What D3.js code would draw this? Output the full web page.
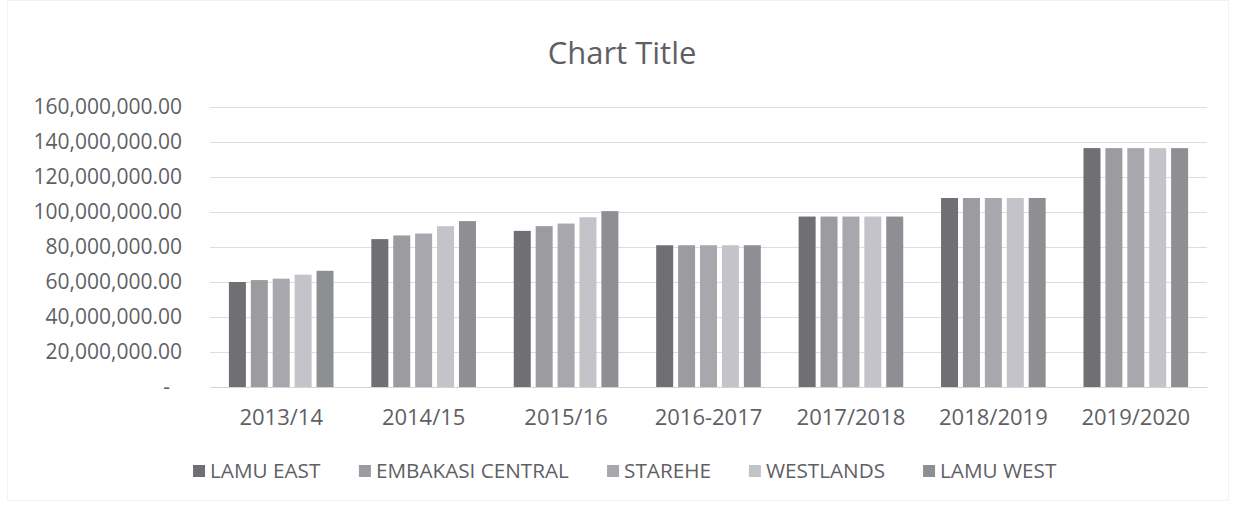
<!DOCTYPE html>
<html>
<head>
<meta charset="utf-8">
<script src="https://cdn.jsdelivr.net/npm/d3@7"></script>
<style>
  body { margin: 0; background: #fff; }
  text { font-family: "Open Sans", sans-serif; fill: #5f5f66; }
</style>
</head>
<body>
<div id="chart"></div>
<script>
const years = ["2013/14", "2014/15", "2015/16", "2016-2017", "2017/2018", "2018/2019", "2019/2020"];
const series = ["LAMU EAST", "EMBAKASI CENTRAL", "STAREHE", "WESTLANDS", "LAMU WEST"];
const colors = ["#6f6f74", "#9b9ba0", "#a7a7ad", "#c3c3c9", "#8e8f93"];

const lamuEast        = [60000000, 84500000, 89200000, 81000000, 97400000, 108000000, 136500000];
const embakasiCentral = [61100000, 86600000, 91900000, 81000000, 97400000, 108000000, 136500000];
const starehe         = [61900000, 87700000, 93400000, 81000000, 97400000, 108000000, 136500000];
const westlands       = [64200000, 91900000, 97000000, 81000000, 97400000, 108000000, 136500000];
const lamuWest        = [66400000, 94800000, 100500000, 81000000, 97400000, 108000000, 136500000];

const yTicks = [0, 20000000, 40000000, 60000000, 80000000, 100000000, 120000000, 140000000, 160000000];

const values = [lamuEast, embakasiCentral, starehe, westlands, lamuWest];
const rows = years.map((y, i) => {
  const r = { year: y };
  series.forEach((s, j) => (r[s] = values[j][i]));
  return r;
});

const W = 1236, H = 508;
const margin = { top: 107, right: 29, bottom: 121, left: 210 };
const width = W - margin.left - margin.right,
  height = H - margin.top - margin.bottom;

const svg = d3.select("#chart").append("svg").attr("width", W).attr("height", H);

// faint outer frame of the chart area
svg.append("rect").attr("x", 7.5).attr("y", 0.5).attr("width", W - 15).attr("height", H - 8)
  .attr("fill", "none").attr("stroke", "#f2f2f4");

svg.append("text").attr("x", 622).attr("y", 64).attr("text-anchor", "middle")
  .style("font-size", "31px").text("Chart Title");

const g = svg.append("g").attr("transform", `translate(${margin.left},${margin.top})`);

const x0 = d3.scaleBand().domain(years).range([0, width]).padding(0);
const x1 = d3.scaleBand().domain(series).range([0, x0.bandwidth()]).paddingInner(0.224).paddingOuter(0.863);
const y = d3.scaleLinear().domain([0, 160000000]).range([height, 0]);

const fmt = d3.format(",.2f");

// gridlines
g.append("g")
  .call(d3.axisLeft(y).tickValues(yTicks).tickSize(-width).tickFormat(""))
  .call((a) => a.select(".domain").remove())
  .selectAll("line").attr("stroke", "#dcdce2");

// y labels
const yAxis = g.append("g")
  .call(d3.axisLeft(y).tickValues(yTicks).tickSize(0).tickPadding(28)
    .tickFormat((d) => (d === 0 ? "-" : fmt(d))));
yAxis.select(".domain").remove();
yAxis.selectAll("text").style("font-size", "21px").attr("fill", "#5f5f66")
  .attr("dx", (d) => (d === 0 ? -12 : 0));

// bars
g.selectAll(".grp").data(rows).enter().append("g").attr("class", "grp")
  .attr("transform", (d) => `translate(${x0(d.year)},0)`)
  .selectAll("rect").data((d) => series.map((s, i) => ({ key: s, value: d[s], i })))
  .enter().append("rect")
  .attr("x", (d) => x1(d.key))
  .attr("y", (d) => y(d.value))
  .attr("width", x1.bandwidth())
  .attr("height", (d) => height - y(d.value))
  .attr("fill", (d) => colors[d.i]);

// x axis
const xAxis = g.append("g").attr("transform", `translate(0,${height})`)
  .call(d3.axisBottom(x0).tickSize(0).tickPadding(22));
xAxis.select(".domain").attr("stroke", "#d2d2d7");
xAxis.selectAll("text").style("font-size", "22px").attr("fill", "#5f5f66");

// legend
const legend = svg.append("g").attr("transform", "translate(0,478)");
const items = legend.selectAll("g").data(series).enter().append("g");
items.append("rect").attr("y", -13).attr("width", 12).attr("height", 12).attr("fill", (d, i) => colors[i]);
items.append("text").attr("x", 17).style("font-size", "20.7px").text((d) => d);

let widths = [];
items.each(function () { widths.push(this.getBBox().width); });
const gap = 38;
const total = d3.sum(widths) + gap * (widths.length - 1);
let cx = 625 - total / 2;
items.attr("transform", (d, i) => {
  const t = `translate(${cx},0)`;
  cx += widths[i] + gap;
  return t;
});
</script>
</body>
</html>
